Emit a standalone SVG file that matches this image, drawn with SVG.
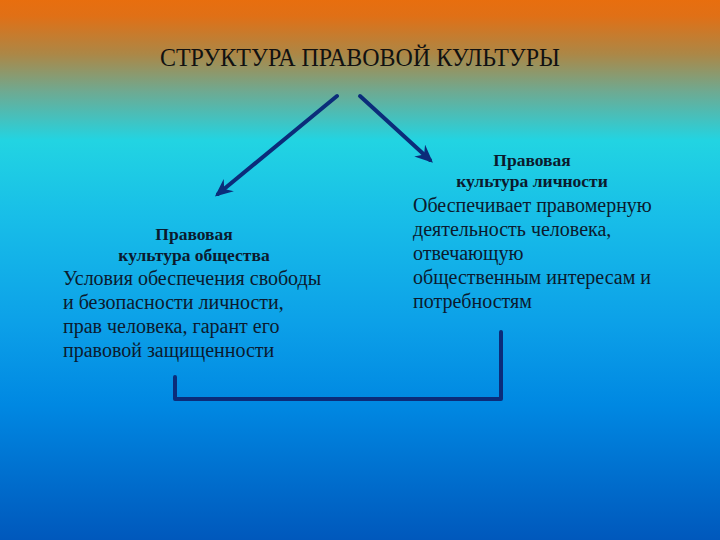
<svg xmlns="http://www.w3.org/2000/svg" width="720" height="540" viewBox="0 0 720 540">
  <defs>
    <linearGradient id="bg" x1="0" y1="0" x2="0" y2="1">
      <stop offset="0" stop-color="#E86E0E"/>
      <stop offset="0.03" stop-color="#E07016"/>
      <stop offset="0.1" stop-color="#AC8746"/>
      <stop offset="0.17" stop-color="#6EAA92"/>
      <stop offset="0.26" stop-color="#22D4E2"/>
      <stop offset="0.4" stop-color="#18BEE8"/>
      <stop offset="0.6" stop-color="#0CA0E8"/>
      <stop offset="0.75" stop-color="#0088E2"/>
      <stop offset="1" stop-color="#0058BC"/>
    </linearGradient>
    <marker id="arr" viewBox="0 0 18 16" markerWidth="18" markerHeight="16" refX="14" refY="8" markerUnits="userSpaceOnUse" orient="auto">
      <path d="M0,0 L18,8 L0,16 L6,8 z" fill="#0B2C7A"/>
    </marker>
    <style>
      .title { font-family: "Liberation Serif", "Times New Roman", serif; font-size: 25px; fill: #111; }
      .head { font-family: "Liberation Serif", "Times New Roman", serif; font-size: 17.5px; font-weight: bold; fill: #0B1A2E; text-anchor: middle; }
      .body { font-family: "Liberation Serif", "Times New Roman", serif; font-size: 20px; fill: #0B1A2E; }
      .conn { stroke: #0B2C7A; stroke-width: 4; fill: none; stroke-linecap: round; stroke-linejoin: round; }
    </style>
  </defs>
  <rect x="0" y="0" width="720" height="540" fill="url(#bg)"/>

  <g id="title">
    <text class="title" x="160" y="66" textLength="400" lengthAdjust="spacingAndGlyphs">СТРУКТУРА ПРАВОВОЙ КУЛЬТУРЫ</text>
  </g>

  <g id="connectors">
    <line class="conn" x1="337" y1="96" x2="218" y2="194" marker-end="url(#arr)"/>
    <line class="conn" x1="360" y1="96" x2="430" y2="160" marker-end="url(#arr)"/>
    <polyline class="conn" points="175,377 175,399 501,399 501,332"/>
  </g>

  <g id="node-society">
    <text class="head" x="194" y="240">Правовая</text>
    <text class="head" x="194" y="261">культура общества</text>
    <text class="body" x="63" y="285">Условия обеспечения свободы</text>
    <text class="body" x="63" y="309">и безопасности личности,</text>
    <text class="body" x="63" y="333">прав человека, гарант его</text>
    <text class="body" x="63" y="357">правовой защищенности</text>
  </g>

  <g id="node-person">
    <text class="head" x="532" y="166">Правовая</text>
    <text class="head" x="532" y="187">культура личности</text>
    <text class="body" x="413" y="212">Обеспечивает правомерную</text>
    <text class="body" x="413" y="236">деятельность человека,</text>
    <text class="body" x="413" y="260">отвечающую</text>
    <text class="body" x="413" y="284">общественным интересам и</text>
    <text class="body" x="413" y="308">потребностям</text>
  </g>
</svg>
